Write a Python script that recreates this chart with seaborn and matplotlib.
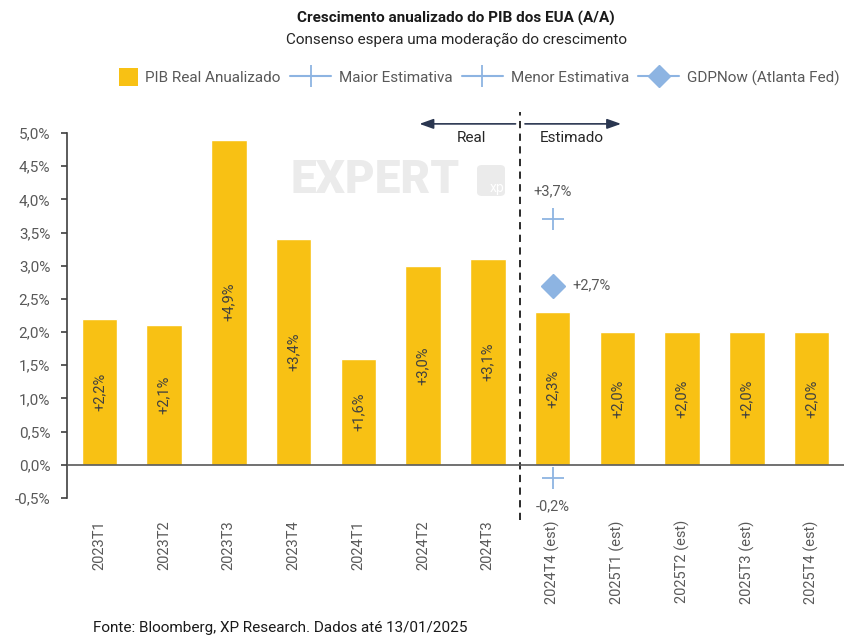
import matplotlib
matplotlib.use("Agg")
import matplotlib.pyplot as plt
import seaborn as sns
import pandas as pd
from matplotlib.lines import Line2D
from matplotlib.patches import FancyBboxPatch, Patch, Rectangle
from matplotlib.legend_handler import HandlerPatch
import matplotlib.transforms as mtransforms

categories = ["2023T1", "2023T2", "2023T3", "2023T4", "2024T1", "2024T2", "2024T3",
              "2024T4 (est)", "2025T1 (est)", "2025T2 (est)", "2025T3 (est)", "2025T4 (est)"]
values = [2.2, 2.1, 4.9, 3.4, 1.6, 3.0, 3.1, 2.3, 2.0, 2.0, 2.0, 2.0]
est_category = ["2024T4 (est)"]
maior_estimativa = [3.7]
menor_estimativa = [-0.2]
gdpnow = [2.7]
yticks = [-0.5, 0.0, 0.5, 1.0, 1.5, 2.0, 2.5, 3.0, 3.5, 4.0, 4.5, 5.0]

YELLOW = "#F8C114"
BLUE = "#8DB4E2"
TXT = "#404040"
GRAY = "#595959"

sns.set_theme(style="white")
plt.rcParams["font.family"] = ["Roboto", "DejaVu Sans"]

fig = plt.figure(figsize=(8.45, 6.39), dpi=100)
ax = fig.add_axes([67/845, 1-498/639, (844-67)/845, (498-133)/639])

df = pd.DataFrame({"cat": categories, "val": values})
sns.barplot(data=df, x="cat", y="val", color=YELLOW, saturation=1, width=0.55, ax=ax)

# zero line
ax.axhline(0, color=GRAY, lw=1.2, zorder=3)

# value labels
def fmt(v):
    return ("+" if v >= 0 else "") + f"{v:.1f}".replace(".", ",") + "%"

for i, v in enumerate(values):
    ax.text(i, v/2, fmt(v), rotation=90, ha="center", va="center", fontsize=10.5, color=TXT, zorder=4)

# estimates
xi = categories.index(est_category[0])
ax.plot([xi], maior_estimativa, marker="+", ms=16, mew=1.3, color=BLUE, ls="none", zorder=5)
ax.plot([xi], menor_estimativa, marker="+", ms=16, mew=1.3, color=BLUE, ls="none", zorder=5)
ax.plot([xi], gdpnow, marker="D", ms=12, color=BLUE, ls="none", zorder=5)
ax.text(xi, maior_estimativa[0] + 0.42, fmt(maior_estimativa[0]), ha="center", va="center", fontsize=10.5, color=GRAY)
ax.text(xi, menor_estimativa[0] - 0.42, fmt(menor_estimativa[0]), ha="center", va="center", fontsize=10.5, color=GRAY)
ax.text(xi + 0.3, gdpnow[0], fmt(gdpnow[0]), ha="left", va="center", fontsize=10.5, color=GRAY)

# axes styling
ax.set_xlim(-0.5, len(categories) - 0.5)
ax.set_ylim(-0.5, 5.0)
ax.set_yticks(yticks)
ax.set_yticklabels([f"{t:.1f}".replace(".", ",") + "%" for t in yticks], fontsize=11, color=GRAY)
ax.set_xticks(range(len(categories)))
ax.set_xticklabels(categories, rotation=90, fontsize=10.5, color=GRAY)
ax.tick_params(axis="x", length=0, pad=16)
ax.tick_params(axis="y", length=4, width=1.2, color=TXT, direction="out", left=True, pad=8)
ax.set_xlabel("")
ax.set_ylabel("")
for s in ["top", "right", "bottom"]:
    ax.spines[s].set_visible(False)
ax.spines["left"].set_color(TXT)
ax.spines["left"].set_linewidth(1.2)

# dashed separator and arrows
trans = mtransforms.blended_transform_factory(ax.transData, ax.transAxes)
sep = len([c for c in categories if "est" not in c]) - 0.5
ax.plot([sep, sep], [-0.06, 1.058], transform=trans, color="#1a1a1a", ls=(0, (4, 3)), lw=1.3, clip_on=False)
ax.annotate("", xy=(sep - 1.6, 1.025), xytext=(sep - 0.03, 1.025), xycoords=trans, textcoords=trans,
            arrowprops=dict(arrowstyle="-|>,head_length=0.7,head_width=0.25", color="#2A3650", lw=1.2),
            annotation_clip=False)
ax.annotate("", xy=(sep + 1.6, 1.025), xytext=(sep + 0.03, 1.025), xycoords=trans, textcoords=trans,
            arrowprops=dict(arrowstyle="-|>,head_length=0.7,head_width=0.25", color="#2A3650", lw=1.2),
            annotation_clip=False)
ax.text(sep - 0.75, 0.985, "Real", transform=trans, ha="center", va="center", fontsize=11, color="#262626")
ax.text(sep + 0.8, 0.985, "Estimado", transform=trans, ha="center", va="center", fontsize=11, color="#262626")

# watermark
fig.text(375/845, 1-180/639, "EXPERT", fontsize=33, fontweight="heavy", color="#EBEBEB",
         ha="center", va="center", zorder=0, fontstretch="expanded")
fig.patches.append(FancyBboxPatch((477/845, 1-196/639), 28/845, 31/639, transform=fig.transFigure,
                                  boxstyle="round,pad=0,rounding_size=0.006", fc="#EBEBEB", ec="none", zorder=0))
fig.text(497/845, 1-188/639, "xp", fontsize=10, color="white", ha="center", va="center", zorder=1)

# titles
fig.text(456/845, 1-18/639, "Crescimento anualizado do PIB dos EUA (A/A)", ha="center", va="center",
         fontsize=11, fontweight="bold", color="#1a1a1a")
fig.text(456/845, 1-40/639, "Consenso espera uma moderação do crescimento", ha="center", va="center",
         fontsize=11, color="#262626")

# legend
def square_patch(legend, orig_handle, xdescent, ydescent, width, height, fontsize):
    s = height * 1.35
    return Rectangle((-xdescent + width - s, -ydescent + (height - s) / 2), s, s)

handles = [
    Patch(facecolor=YELLOW, edgecolor="none"),
    Line2D([0], [0], color=BLUE, lw=1.5, marker="+", ms=16, mew=1.3),
    Line2D([0], [0], color=BLUE, lw=1.5, marker="+", ms=16, mew=1.3),
    Line2D([0], [0], color=BLUE, lw=1.5, marker="D", ms=11),
]
labels = ["PIB Real Anualizado", "Maior Estimativa", "Menor Estimativa", "GDPNow (Atlanta Fed)"]
leg = fig.legend(handles, labels, loc="center", bbox_to_anchor=(468/845, 1-78/639), ncol=4, frameon=False,
                 fontsize=11, handlelength=2.7, handleheight=1.0, columnspacing=0.6, handletextpad=0.5,
                 handler_map={Patch: HandlerPatch(patch_func=square_patch)})
for t in leg.get_texts():
    t.set_color(GRAY)

# footer
fig.text(93/845, 1-628/639, "Fonte: Bloomberg, XP Research. Dados até 13/01/2025", ha="left", va="center",
         fontsize=11, color="#1a1a1a")

fig.savefig("out.png", dpi=100)
